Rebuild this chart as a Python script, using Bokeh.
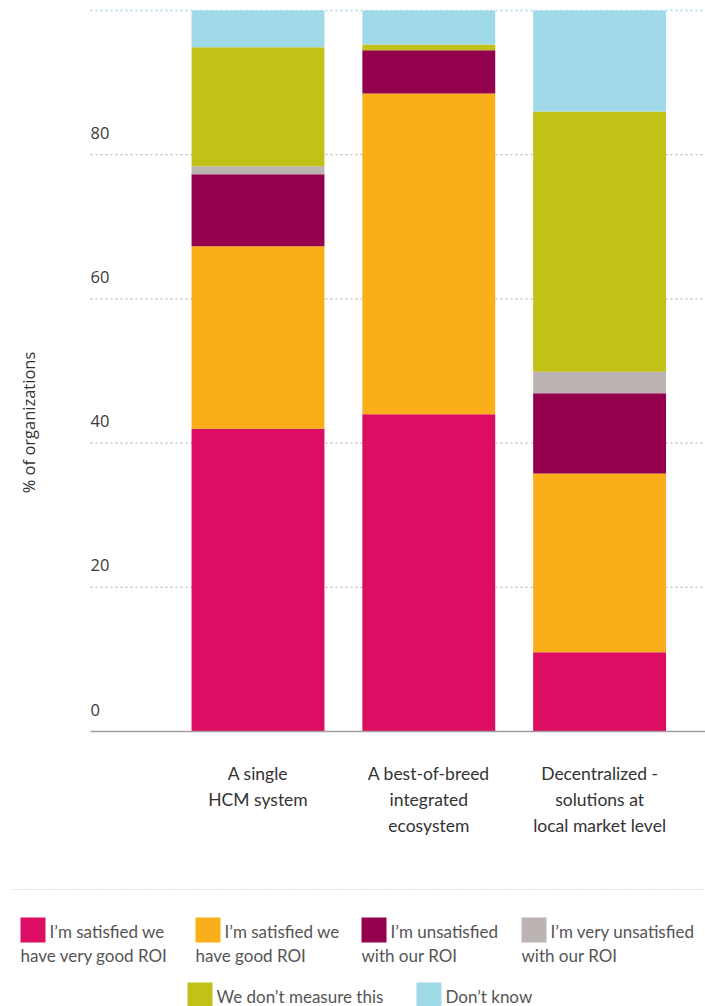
from math import pi

from bokeh.core.properties import value
from bokeh.embed import file_html
from bokeh.models import ColumnDataSource, Range1d
from bokeh.plotting import figure
from bokeh.resources import INLINE

# --- data -------------------------------------------------------------
categories = [
    ["A single", "HCM system"],
    ["A best-of-breed", "integrated", "ecosystem"],
    ["Decentralized -", "solutions at", "local market level"],
]
very_good_roi = [42.0, 44.0, 11.0]
good_roi = [25.3, 44.5, 24.8]
unsatisfied = [10.0, 6.0, 11.1]
very_unsatisfied = [1.1, 0.0, 3.0]
dont_measure = [16.5, 0.8, 36.1]
dont_know = [5.1, 4.7, 14.0]

series_keys = ["very_good", "good", "unsat", "very_unsat", "measure", "know"]
series_labels = [
    ["I\u2019m satisfied we", "have very good ROI"],
    ["I\u2019m satisfied we", "have good ROI"],
    ["I\u2019m unsatisfied", "with our ROI"],
    ["I\u2019m very unsatisfied", "with our ROI"],
    ["We don\u2019t measure this"],
    ["Don\u2019t know"],
]
colors = ["#DC0D63", "#F9AE1A", "#93004C", "#BCB3B3", "#C2C118", "#A0DAE9"]

y_ticks = [0, 20, 40, 60, 80]
grid_values = [20, 40, 60, 80, 100]
y_title = "% of organizations"

SANS = "Open Sans"
GEO = "Lato"

# --- canvas geometry --------------------------------------------------
W, H = 705, 1006
PX_X = 170.8               # pixels per category step
X0 = 1 - 257.5 / PX_X      # data x at the left canvas edge
PX_Y = 7.21                # pixels per percentage point
BASE = 731                 # pixel row of the zero line
LEFT = 90                  # left edge of the plotting area
LIFT = 6                   # raise text baselines slightly


def dx(px):
    return X0 + px / PX_X


def dy(py):
    return (BASE - py) / PX_Y


x = [1, 2, 3]
source = ColumnDataSource(dict(
    x=x,
    very_good=very_good_roi,
    good=good_roi,
    unsat=unsatisfied,
    very_unsat=very_unsatisfied,
    measure=dont_measure,
    know=dont_know,
))

p = figure(
    width=W, height=H,
    x_range=Range1d(dx(0), dx(W)), y_range=Range1d(dy(H), dy(0)),
    x_axis_location=None, y_axis_location=None,
    toolbar_location=None, output_backend="svg",
    min_border=0,
)
p.outline_line_color = None
p.grid.visible = False
p.background_fill_color = "white"
p.border_fill_color = "white"

# dotted gridlines behind the bars
p.segment(
    x0=[dx(LEFT)] * len(grid_values), x1=[dx(W)] * len(grid_values),
    y0=grid_values, y1=grid_values,
    line_color=["#A0DAE9" if g == 100 else "#BBBBBB" for g in grid_values],
    line_width=1.3, line_dash="2 3",
)

p.vbar_stack(series_keys, x="x", width=0.778, source=source,
             color=colors, line_color=None)

# baseline
p.segment(x0=[dx(LEFT)], x1=[dx(W)], y0=[0], y1=[0],
          line_color="#A39C9C", line_width=1.5)

# tick labels sit above their gridlines
p.text(
    x=[dx(LEFT)] * len(y_ticks), y=[t + (16 + LIFT) / PX_Y for t in y_ticks],
    text=[str(t) for t in y_ticks],
    text_font=value(SANS), text_font_size="16.5px", text_color="#3a3a3a",
    text_align="left", text_baseline="alphabetic",
)

# y-axis title
p.text(
    x=[dx(28)], y=[dy(422)], text=[y_title], angle=pi / 2,
    text_font=value(SANS), text_font_size="16.5px", text_color="#333333",
    text_align="center", text_baseline="middle",
)

# category labels under the bars
cx, cy, ct = [], [], []
for xi, lines in zip(x, categories):
    for j, line in enumerate(lines):
        cx.append(xi)
        cy.append(dy(779 - LIFT + 26 * j))
        ct.append(line)
p.text(x=cx, y=cy, text=ct, text_font=value(GEO), text_font_size="17.5px",
       text_color="#333333", text_align="center", text_baseline="alphabetic")

# --- legend -----------------------------------------------------------
p.segment(x0=[dx(12)], x1=[dx(W)], y0=[dy(889)], y1=[dy(889)],
          line_color="#BDBDBD", line_width=1.2, line_dash="1 2")

swatch_left = [20, 195, 361, 521, 187, 416]
swatch_top = [917, 917, 917, 917, 982, 982]
sw = 25

p.quad(left=[dx(l) for l in swatch_left],
       right=[dx(l + sw) for l in swatch_left],
       top=[dy(t) for t in swatch_top],
       bottom=[dy(t + sw) for t in swatch_top],
       fill_color=colors, line_color=None)

tx, ty, tt = [], [], []
for left, top, lines in zip(swatch_left, swatch_top, series_labels):
    tx.append(dx(left + sw + 4))
    ty.append(dy(top + 20 - LIFT))
    tt.append(lines[0])
    for j, line in enumerate(lines[1:], start=1):
        tx.append(dx(left))
        ty.append(dy(top + 20 - LIFT + 24 * j))
        tt.append(line)

p.text(x=tx, y=ty, text=tt, text_font=value(GEO), text_font_size="17px",
       text_color="#555555", text_align="left", text_baseline="alphabetic")

open("out.html", "w").write(file_html(p, INLINE))
